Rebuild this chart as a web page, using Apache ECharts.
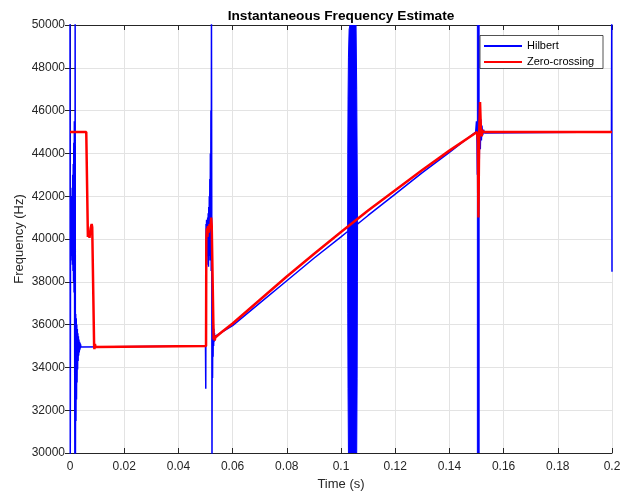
<!DOCTYPE html>
<html>
<head>
<meta charset="utf-8">
<script src="https://cdn.jsdelivr.net/npm/echarts@6/dist/echarts.min.js"></script>
<style>
  html, body { margin: 0; padding: 0; background: #fff; }
  #chart { width: 621px; height: 493px; }
</style>
</head>
<body>
<div id="chart"></div>
<script>
// Hilbert-transform estimate, [time s, frequency Hz]
const hilbertStartup = [
  [0, 50500], [0.0001, 29500], [0.0002, 41500], [0.0003, 39000], [0.0004, 42000],
  [0.0005, 39500], [0.0006, 41800], [0.0007, 39200], [0.0008, 42400], [0.0009, 38800],
  [0.0010, 43000], [0.0011, 38500], [0.0012, 43500], [0.0013, 38000], [0.0014, 44500],
  [0.0015, 37500], [0.0016, 45500], [0.0017, 36800], [0.0018, 29500], [0.0019, 50500],
  [0.0020, 29500], [0.0021, 36500], [0.0022, 31500], [0.0023, 36300], [0.0024, 32500],
  [0.0025, 36000], [0.0026, 33300], [0.0027, 35800], [0.0028, 33900], [0.0029, 35600],
  [0.0030, 34300], [0.0031, 35450], [0.0032, 34550], [0.0033, 35300], [0.0034, 34700],
  [0.0035, 35200], [0.0036, 34800], [0.0037, 35150], [0.0038, 34880], [0.0039, 35080],
  [0.0040, 34950], [0.0042, 35030], [0.0044, 35000], [0.0500, 35000]
];
const hilbertStep1 = [
  [0.0501, 33000], [0.0502, 40700], [0.0503, 40000], [0.0504, 40900], [0.0505, 39600],
  [0.0506, 40800], [0.0507, 39200], [0.0508, 41000], [0.0509, 38800], [0.0510, 41200],
  [0.0511, 38700], [0.0512, 41500], [0.0513, 39000], [0.0514, 42000], [0.0515, 39200],
  [0.0516, 42800], [0.0517, 39500], [0.0518, 44000], [0.0519, 39000], [0.0520, 46000],
  [0.0521, 38500], [0.0522, 50500], [0.0523, 42000], [0.0524, 29500], [0.0525, 37000],
  [0.0526, 33500], [0.0527, 36500], [0.0528, 34500], [0.0529, 36000], [0.0530, 35000],
  [0.0531, 35800], [0.0532, 35200], [0.0533, 35600], [0.0534, 35350], [0.0535, 35450]
];
const hilbertRampA = [
  [0.06, 35950], [0.07, 37000], [0.08, 38050], [0.09, 39100], [0.10, 40100], [0.10245, 40350]
];
const hilbertRampB = [
  [0.10612, 40700], [0.11, 41100], [0.12, 42100], [0.13, 43100], [0.14, 44050],
  [0.1497, 45000], [0.1500, 45500], [0.1502, 44500], [0.15032, 43000]
];
const hilbertTail = [
  [0.15098, 43000], [0.1512, 46000], [0.1514, 44200], [0.1516, 45600], [0.1518, 44600],
  [0.1520, 45300], [0.1523, 44850], [0.1526, 45100], [0.1530, 44950], [0.1535, 45000],
  [0.1998, 45000], [0.1999, 50500], [0.2, 38470]
];

// Envelopes of the fast oscillations, [time s, lowest Hz, highest Hz]
const hilbertBurstEnvelope = [
  [0.10245, 40250, 40450], [0.10250, 36500, 44000], [0.10260, 33000, 46500],
  [0.10275, 30000, 48500], [0.10300, 30000, 49800], [0.10330, 30000, 50000],
  [0.10555, 30000, 50000], [0.10580, 30000, 47000], [0.10595, 33500, 44000],
  [0.10605, 38000, 42000], [0.10612, 40650, 40750]
];
const hilbertSpikeEnvelope = [
  [0.15032, 30000, 50000], [0.15098, 30000, 50000]
];

// Zero-crossing estimate, [time s, frequency Hz]
const zeroStartup = [
  [0, 45000], [0.0060, 45000], [0.0066, 40100], [0.0069, 40300], [0.0072, 40050],
  [0.0076, 40500], [0.0080, 40700], [0.0082, 40550], [0.0089, 35000], [0.0090, 34850],
  [0.0092, 35100], [0.0094, 34950], [0.0096, 35000], [0.0502, 35000]
];
const zeroStep1 = [
  [0.0503, 40000], [0.0505, 40500], [0.0507, 40100], [0.0509, 40600], [0.0512, 40300],
  [0.0515, 40700], [0.0518, 40500], [0.0521, 41000], [0.0523, 40600], [0.0530, 35300],
  [0.0532, 35500], [0.0534, 35250], [0.0536, 35400]
];
const zeroChirp = [
  [0.056, 35650], [0.06, 36050], [0.07, 37150], [0.08, 38250], [0.09, 39300],
  [0.10, 40330], [0.11, 41330], [0.12, 42280], [0.13, 43220], [0.14, 44130], [0.1502, 45000]
];
const zeroStep2 = [
  [0.1505, 44600], [0.1507, 41000], [0.1510, 45000], [0.1513, 46400], [0.1516, 45200],
  [0.1519, 44800], [0.1521, 45100], [0.1524, 45000], [0.2, 45000]
];

const seriesNames = ['Hilbert', 'Zero-crossing'];
const chartTitle = 'Instantaneous Frequency Estimate';
const xName = 'Time (s)';
const yName = 'Frequency (Hz)';

// The line breaks where the oscillation envelopes are filled in.
const gap = (t) => [[t, null]];
const hilbertData = [].concat(
  hilbertStartup, hilbertStep1, hilbertRampA, gap(0.1043),
  hilbertRampB, gap(0.1506), hilbertTail
);
const hilbertEnvelopes = [hilbertBurstEnvelope, hilbertSpikeEnvelope];
const zeroData = [].concat(zeroStartup, zeroStep1, zeroChirp, zeroStep2);

const blue = '#0000ff';
const red = '#ff0000';
const axisColor = '#262626';
const gridColor = '#e3e3e3';
const font = '"Liberation Sans", Arial, Helvetica, sans-serif';

const chart = echarts.init(document.getElementById('chart'), null, { renderer: 'canvas' });

const xBase = {
  type: 'value', min: 0, max: 0.2, interval: 0.02,
  axisLine: { show: true, lineStyle: { color: axisColor, width: 1 } },
  axisTick: { show: true, inside: true, length: 5, lineStyle: { color: axisColor } },
  splitLine: { show: false }
};
const yBase = {
  type: 'value', min: 30000, max: 50000, interval: 2000,
  axisLine: { show: true, lineStyle: { color: axisColor, width: 1 } },
  axisTick: { show: true, inside: true, length: 5, lineStyle: { color: axisColor } },
  splitLine: { show: false }
};

chart.setOption({
  animation: false,
  backgroundColor: '#fff',
  textStyle: { fontFamily: font },
  title: {
    text: chartTitle,
    left: 341, top: 9, textAlign: 'center', padding: 0,
    textStyle: { fontFamily: font, fontSize: 13.7, fontWeight: 'bold', color: '#000' }
  },
  grid: { left: 70, top: 25, width: 542, height: 428, containLabel: false, outerBoundsMode: 'none' },
  legend: {
    data: seriesNames,
    orient: 'vertical',
    left: 484, top: 40, padding: 0,
    itemWidth: 38, itemHeight: 2, itemGap: 4,
    icon: 'rect',
    textStyle: { fontFamily: font, fontSize: 11, color: '#000', lineHeight: 12 },
    z: 12
  },
  graphic: [{
    type: 'rect', z: 11,
    shape: { x: 480, y: 35.5, width: 123, height: 33 },
    style: { fill: '#fff', stroke: axisColor, lineWidth: 0.8 }
  }],
  xAxis: [
    Object.assign({}, xBase, {
      position: 'bottom',
      name: xName, nameLocation: 'middle', nameGap: 25, nameMoveOverlap: false,
      nameTextStyle: { fontFamily: font, fontSize: 13, color: axisColor },
      axisLabel: {
        fontFamily: font, fontSize: 12, color: axisColor, margin: 8,
        formatter: v => String(Math.round(v * 100) / 100)
      },
      splitLine: { show: true, lineStyle: { color: gridColor, width: 1 } }
    }),
    Object.assign({}, xBase, { position: 'top', axisLabel: { show: false } })
  ],
  yAxis: [
    Object.assign({}, yBase, {
      position: 'left',
      name: yName, nameLocation: 'middle', nameGap: 44, nameMoveOverlap: false,
      nameTextStyle: { fontFamily: font, fontSize: 13, color: axisColor },
      axisLabel: {
        fontFamily: font, fontSize: 12, color: axisColor, margin: 5,
        formatter: v => String(v)
      },
      splitLine: { show: true, lineStyle: { color: gridColor, width: 1 } }
    }),
    Object.assign({}, yBase, { position: 'right', axisLabel: { show: false } })
  ],
  series: [
    {
      name: seriesNames[0], type: 'line', data: hilbertData,
      xAxisIndex: 0, yAxisIndex: 0, connectNulls: false,
      showSymbol: false, symbol: 'none', clip: true,
      color: blue,
      lineStyle: { color: blue, width: 1.5 },
      z: 3
    },
    {
      // filled envelopes of the dense Hilbert oscillations
      name: seriesNames[0], type: 'custom',
      xAxisIndex: 0, yAxisIndex: 0, clip: true,
      data: hilbertEnvelopes.map((env, i) => [env[0][0], env[0][1], i]),
      encode: { x: 0, y: 1 },
      color: blue,
      renderItem: (params, api) => {
        const env = hilbertEnvelopes[params.dataIndex];
        const upper = env.map(p => api.coord([p[0], p[2]]));
        const lower = env.slice().reverse().map(p => api.coord([p[0], p[1]]));
        return {
          type: 'polygon',
          shape: { points: upper.concat(lower) },
          style: { fill: blue, stroke: blue, lineWidth: 1 }
        };
      },
      z: 3
    },
    {
      name: seriesNames[1], type: 'line', data: zeroData,
      xAxisIndex: 0, yAxisIndex: 0,
      showSymbol: false, symbol: 'none', clip: true,
      color: red,
      lineStyle: { color: red, width: 2.5 },
      z: 4
    }
  ]
});
</script>
</body>
</html>
